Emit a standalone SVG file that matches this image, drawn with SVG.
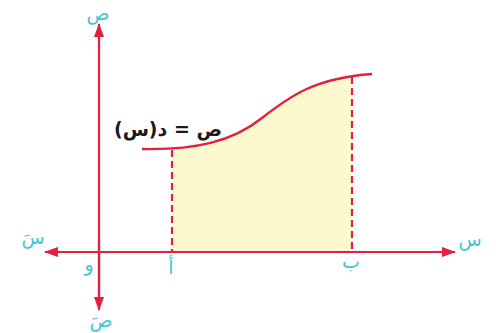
<svg xmlns="http://www.w3.org/2000/svg" width="496" height="333" viewBox="0 0 496 333">
<style>
.ax{stroke:#e3203f;stroke-width:2.2;fill:none}
.dash{stroke:#e3203f;stroke-width:2.2;fill:none;stroke-dasharray:7 4}
.curve{stroke:#e3203f;stroke-width:2.4;fill:none}
.lbl{fill:#3fc6d6;font-family:"Noto Sans","DejaVu Sans",sans-serif;font-size:19px}
.fn{fill:#1a1a1a;font-family:"DejaVu Sans","Noto Sans",sans-serif;font-size:19px;font-weight:bold}
</style>
<defs>
<marker id="ah" viewBox="0 0 14 10" refX="13" refY="5" markerWidth="14" markerHeight="10" markerUnits="userSpaceOnUse" orient="auto">
<path d="M0,0 L14,5 L0,10 Z" fill="#e3203f"/>
</marker>
<clipPath id="band"><rect x="172" y="0" width="180" height="252"/></clipPath>
</defs>
<rect width="496" height="333" fill="#ffffff"/>
<g id="area">
<path clip-path="url(#band)" d="M142,149 C195,150 232,142 262,118 C290,96 315,78 372,74 L372,252 L142,252 Z" fill="#fcf9cf"/>
</g>
<g id="connectors">
<line class="ax" x1="99" y1="300" x2="99" y2="24" marker-end="url(#ah)"/>
<line class="ax" x1="99" y1="240" x2="99" y2="310" marker-end="url(#ah)"/>
<line class="ax" x1="120" y1="252" x2="45" y2="252" marker-end="url(#ah)"/>
<line class="ax" x1="99" y1="252" x2="455" y2="252" marker-end="url(#ah)"/>
<line class="dash" x1="172" y1="150" x2="172" y2="252"/>
<line class="dash" x1="352" y1="77" x2="352" y2="252"/>
<path class="curve" d="M142,149 C195,150 232,142 262,118 C290,96 315,78 372,74"/>
</g>
<g id="labels">
<text class="lbl" x="98" y="20" text-anchor="middle">ص</text>
<text class="lbl" x="33" y="244" text-anchor="middle">سَ</text>
<text class="lbl" x="470" y="246" text-anchor="middle">س</text>
<text class="lbl" x="89" y="271" text-anchor="middle">و</text>
<text class="lbl" x="101" y="327" text-anchor="middle">صَ</text>
<text class="lbl" x="171" y="274" text-anchor="middle">أ</text>
<text class="lbl" x="351" y="268" text-anchor="middle">ب</text>
<text class="fn" x="168" y="136" text-anchor="middle" direction="rtl">ص = د(س)</text>
</g>
</svg>
